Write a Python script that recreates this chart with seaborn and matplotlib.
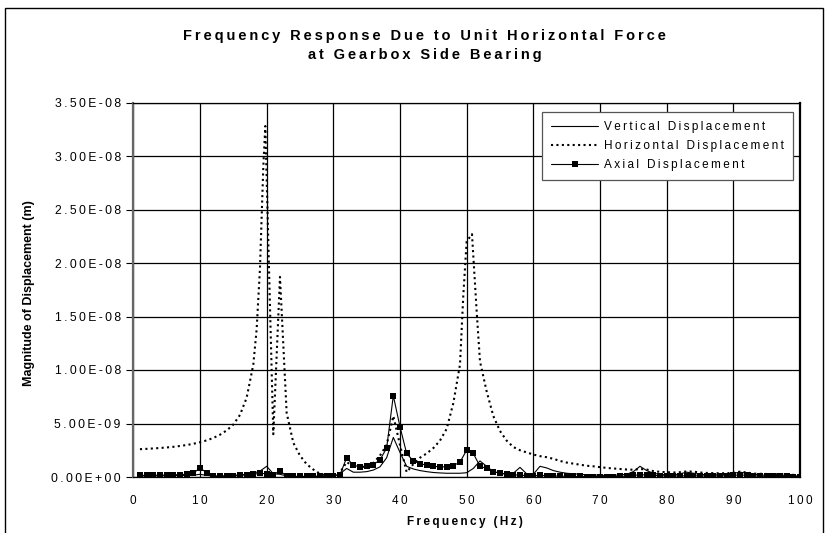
import numpy as np
import pandas as pd
import matplotlib
matplotlib.use("Agg")
import matplotlib.pyplot as plt
import matplotlib.patches as mpatches
import seaborn as sns

# ---------------- data (displacement values in units of 1e-9 m) ----------------
freq = np.arange(1, 101)

vertical = [
    0.10, 0.10, 0.10, 0.12, 0.12, 0.13, 0.14, 0.15, 0.17, 0.25,
    0.15, 0.10, 0.10, 0.12, 0.15, 0.20, 0.25, 0.35, 0.55, 1.00,
    0.30, 0.25, 0.10, 0.05, 0.05, 0.05, 0.05, 0.05, 0.05, 0.08,
    0.30, 0.80, 0.45, 0.45, 0.50, 0.65, 0.95, 1.80, 3.70, 2.30,
    1.00, 0.75, 0.60, 0.50, 0.42, 0.38, 0.35, 0.35, 0.35, 0.40,
    0.80, 1.50, 1.00, 0.50, 0.35, 0.30, 0.35, 0.90, 0.30, 0.25,
    1.00, 0.85, 0.60, 0.45, 0.35, 0.30, 0.25, 0.20, 0.20, 0.15,
    0.15, 0.15, 0.20, 0.25, 0.50, 1.00, 0.60, 0.35, 0.25, 0.20,
    0.20, 0.30, 0.45, 0.35, 0.25, 0.20, 0.20, 0.20, 0.25, 0.35,
    0.45, 0.35, 0.25, 0.20, 0.15, 0.15, 0.12, 0.12, 0.10, 0.10,
]

freq_h = [
    1, 2, 3, 4, 5, 6, 7, 8, 9, 10,
    11, 12, 13, 14, 15, 16, 17, 18, 18.5, 19, 19.5, 19.8,
    21, 22, 23, 24, 25, 26, 27, 28, 29, 30,
    31, 32, 33, 34, 35, 36, 37, 38, 39, 40,
    41, 42, 43, 44, 45, 46, 47, 48, 49, 49.5, 50, 50.8, 51.5, 52,
    53, 54, 55, 56, 57, 58, 59, 60,
    61, 62, 63, 64, 65, 66, 67, 68, 69, 70,
    71, 72, 73, 74, 75, 76, 77, 78, 79, 80,
    81, 82, 83, 84, 85, 86, 87, 88, 89, 90,
    91, 92, 93, 94, 95, 96, 97, 98, 99, 100,
]
horizontal = [
    2.60, 2.63, 2.67, 2.71, 2.76, 2.82, 2.90, 2.99, 3.10, 3.25,
    3.42, 3.65, 3.95, 4.35, 4.90, 5.80, 7.40, 10.5, 13.8, 19.5, 29.0, 32.8,
    4.00, 18.7, 6.00, 3.20, 2.00, 1.20, 0.70, 0.30, 0.12, 0.10,
    0.40, 1.40, 1.00, 0.90, 1.00, 1.30, 2.00, 3.00, 5.70, 3.00,
    0.45, 1.20, 1.80, 2.20, 2.70, 3.40, 4.50, 6.90, 10.5, 17.0, 22.0, 22.7, 15.5, 10.8,
    8.00, 5.70, 4.30, 3.40, 2.80, 2.50, 2.30, 2.10,
    1.95, 1.85, 1.70, 1.50, 1.35, 1.25, 1.15, 1.05, 1.00, 0.92,
    0.85, 0.80, 0.75, 0.70, 0.68, 0.75, 0.70, 0.55, 0.48, 0.45,
    0.42, 0.45, 0.52, 0.50, 0.42, 0.38, 0.36, 0.35, 0.35, 0.40,
    0.50, 0.42, 0.32, 0.30, 0.28, 0.26, 0.25, 0.22, 0.20, 0.18,
]

axial = [
    0.15, 0.15, 0.16, 0.17, 0.18, 0.20, 0.22, 0.25, 0.35, 0.85,
    0.40, 0.05, 0.05, 0.08, 0.10, 0.15, 0.20, 0.25, 0.35, 0.30,
    0.20, 0.60, 0.05, 0.05, 0.05, 0.06, 0.07, 0.08, 0.10, 0.12,
    0.20, 1.80, 1.10, 0.95, 1.00, 1.15, 1.60, 2.70, 7.60, 4.70,
    2.20, 1.50, 1.25, 1.10, 1.00, 0.95, 0.95, 1.05, 1.40, 2.50,
    2.20, 1.00, 0.80, 0.50, 0.35, 0.25, 0.20, 0.18, 0.12, 0.10,
    0.15, 0.12, 0.10, 0.08, 0.06, 0.05, 0.05, 0.04, 0.04, 0.03,
    0.04, 0.04, 0.05, 0.08, 0.15, 0.20, 0.20, 0.15, 0.12, 0.10,
    0.10, 0.10, 0.12, 0.12, 0.10, 0.10, 0.10, 0.10, 0.12, 0.15,
    0.20, 0.15, 0.10, 0.08, 0.06, 0.05, 0.05, 0.05, 0.04, 0.04,
]

series_labels = ["Vertical Displacement", "Horizontal Displacement", "Axial Displacement"]
x_ticks = [0, 10, 20, 30, 40, 50, 60, 70, 80, 90, 100]
y_ticks = [0.0, 5e-9, 1e-8, 1.5e-8, 2e-8, 2.5e-8, 3e-8, 3.5e-8]
y_tick_labels = ["0.00E+00", "5.00E-09", "1.00E-08", "1.50E-08",
                 "2.00E-08", "2.50E-08", "3.00E-08", "3.50E-08"]
title_text = "Frequency Response Due to Unit Horizontal Force\nat Gearbox Side Bearing"
x_label = "Frequency (Hz)"
y_label = "Magnitude of Displacement (m)"

UNIT = 1e-9

# ---------------- style ----------------
sns.set_theme(style="white")
plt.rcParams["font.family"] = ["Liberation Sans", "DejaVu Sans"]

SP = "\u2009"


def spaced(s):
    return "\n".join(SP.join(line) for line in s.split("\n"))


fig = plt.figure(figsize=(8.33, 5.33), dpi=100)
fig.patch.set_facecolor("white")
ax = fig.add_axes([133.3 / 833, 1 - 477 / 533, 666.7 / 833, 374.5 / 533])
ax.set_facecolor("white")

df_v = pd.DataFrame({"f": freq, "v": np.array(vertical) * UNIT})
df_h = pd.DataFrame({"f": freq_h, "v": np.array(horizontal) * UNIT})
df_a = pd.DataFrame({"f": freq, "v": np.array(axial) * UNIT})

sns.lineplot(data=df_v, x="f", y="v", ax=ax, color="black", linewidth=0.8,
             estimator=None, sort=False, label=spaced(series_labels[0]), zorder=3)
sns.lineplot(data=df_h, x="f", y="v", ax=ax, color="black", linewidth=1.5,
             linestyle=(0, (1, 1.6)), estimator=None, sort=False,
             label=spaced(series_labels[1]), zorder=4)
sns.lineplot(data=df_a, x="f", y="v", ax=ax, color="black", linewidth=0.8,
             marker="s", markersize=4.3, markeredgewidth=0, markerfacecolor="black",
             estimator=None, sort=False, label=spaced(series_labels[2]), zorder=5)

ax.set_xlim(0, 100)
ax.set_ylim(0, 3.5e-8)
ax.set_xticks(x_ticks)
ax.set_xticklabels([spaced(str(t)) for t in x_ticks], fontsize=8.5)
ax.set_yticks(y_ticks)
ax.set_yticklabels([spaced(t) for t in y_tick_labels], fontsize=8.7)

ax.grid(True, color="black", linewidth=0.9)
ax.set_axisbelow(True)

ax.tick_params(axis="y", direction="out", length=5, width=0.8, color="black",
               pad=4, left=True, labelcolor="black")
ax.tick_params(axis="x", length=0, pad=13, labelcolor="black")

for side in ["top", "bottom"]:
    ax.spines[side].set_color("black")
    ax.spines[side].set_linewidth(0.9)
ax.spines["right"].set_color("black")
ax.spines["right"].set_linewidth(1.6)
ax.spines["left"].set_color("#666666")
ax.spines["left"].set_linewidth(1.6)

ax.set_xlabel(spaced(x_label), fontsize=8.5, fontweight="bold", color="black")
ax.set_ylabel(y_label, fontsize=9, fontweight="bold", color="black")
ax.xaxis.set_label_coords(0.4975, -0.105)
ax.yaxis.set_label_coords(-0.147, 0.49)

leg = ax.legend(loc="upper right", bbox_to_anchor=(0.9895, 0.975),
                borderaxespad=0, fontsize=8.5, frameon=True, fancybox=False,
                framealpha=1, edgecolor="#555555", handlelength=4.0,
                handletextpad=0.5, labelspacing=0.62, borderpad=0.75)
leg.get_frame().set_linewidth(0.9)
for t in leg.get_texts():
    t.set_color("black")

fig.text(0.51, 1 - 45.5 / 533, spaced(title_text), ha="center", va="center",
         fontsize=10.5, fontweight="bold", linespacing=1.38, color="black")

frame = mpatches.Rectangle((5 / 833, -0.1), 818 / 833, 1.1 - 8.5 / 533,
                           transform=fig.transFigure, fill=False,
                           edgecolor="black", linewidth=1.0, clip_on=False)
fig.patches.append(frame)

fig.savefig("out.png", dpi=100, facecolor="white")
